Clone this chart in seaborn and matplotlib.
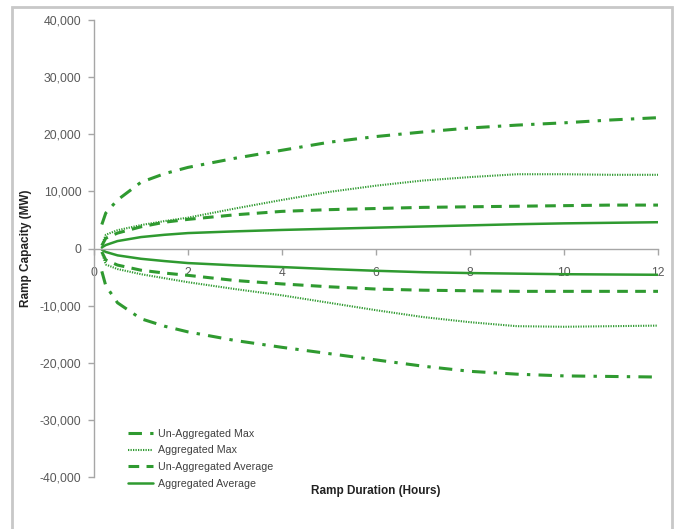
import matplotlib
matplotlib.use("Agg")
import matplotlib.pyplot as plt
import matplotlib.patches as mpatches
from matplotlib.ticker import FuncFormatter, MultipleLocator
import seaborn as sns
import pandas as pd

sns.set_theme(style="white")
plt.rcParams["font.family"] = ["Liberation Sans", "DejaVu Sans"]

# Ramp duration in hours
hours = [1/6, 0.25, 0.5, 1, 1.5, 2, 3, 4, 5, 6, 7, 8, 9, 10, 11, 12]

# Upward / downward ramp capacity (MW)
unagg_max_up = [4200, 6200, 8500, 11600, 13100, 14200, 15800, 17200, 18600, 19600,
                20400, 21100, 21600, 22000, 22500, 22900]
unagg_max_down = [-4000, -6500, -9500, -12300, -13600, -14600, -16100, -17300, -18400,
                  -19500, -20600, -21500, -22000, -22300, -22400, -22500]
agg_max_up = [600, 2400, 3200, 4100, 4800, 5400, 7000, 8500, 9900, 11000, 11900,
              12500, 13000, 13000, 12900, 12900]
agg_max_down = [-700, -2800, -3600, -4500, -5200, -5900, -7100, -8200, -9500, -10800,
                -12000, -12900, -13600, -13700, -13600, -13500]
unagg_avg_up = [500, 1800, 2700, 3800, 4600, 5100, 5900, 6500, 6800, 7000, 7200,
                7300, 7400, 7500, 7600, 7600]
unagg_avg_down = [-600, -2000, -2900, -3800, -4300, -4700, -5600, -6200, -6700, -7100,
                  -7300, -7400, -7500, -7500, -7500, -7500]
agg_avg_up = [200, 600, 1300, 2000, 2400, 2700, 3000, 3250, 3450, 3650, 3850, 4050,
              4250, 4400, 4500, 4600]
agg_avg_down = [-200, -600, -1200, -1800, -2200, -2550, -2950, -3250, -3600, -3900,
                -4150, -4300, -4400, -4500, -4550, -4600]

series_names = ["Un-Aggregated Max", "Aggregated Max",
                "Un-Aggregated Average", "Aggregated Average"]

green = "#2f9a30"
styles = {
    "Un-Aggregated Max": dict(linestyle=(0, (4.4, 2.7, 1.1, 2.7)), linewidth=2.2),
    "Aggregated Max": dict(linestyle=(0, (0.6, 0.6)), linewidth=1.5),
    "Un-Aggregated Average": dict(linestyle=(0, (3.5, 2.4)), linewidth=2.2),
    "Aggregated Average": dict(linestyle="-", linewidth=1.8),
}
pairs = {
    "Un-Aggregated Max": (unagg_max_up, unagg_max_down),
    "Aggregated Max": (agg_max_up, agg_max_down),
    "Un-Aggregated Average": (unagg_avg_up, unagg_avg_down),
    "Aggregated Average": (agg_avg_up, agg_avg_down),
}

fig = plt.figure(figsize=(6.75, 5.29), dpi=100)
ax = fig.add_axes([94/675, 1 - 477/529, (658 - 94)/675, (477 - 20)/529])

for name in series_names:
    up, down = pairs[name]
    df_up = pd.DataFrame({"hours": hours, "mw": up})
    df_dn = pd.DataFrame({"hours": hours, "mw": down})
    sns.lineplot(data=df_up, x="hours", y="mw", ax=ax, color=green,
                 label=name, **styles[name])
    sns.lineplot(data=df_dn, x="hours", y="mw", ax=ax, color=green,
                 label="_nolegend_", **styles[name])

ax.set_xlim(0, 12)
ax.set_ylim(-40000, 40000)
ax.xaxis.set_major_locator(MultipleLocator(2))
ax.yaxis.set_major_locator(MultipleLocator(10000))
ax.yaxis.set_major_formatter(FuncFormatter(lambda v, p: f"{int(v):,}"))

grey = "#a6a6a6"
for s in ["top", "right"]:
    ax.spines[s].set_visible(False)
ax.spines["bottom"].set_position(("data", 0))
ax.spines["bottom"].set_color(grey)
ax.spines["left"].set_color(grey)
ax.spines["bottom"].set_linewidth(1.0)
ax.spines["left"].set_linewidth(1.0)
ax.tick_params(axis="y", which="major", direction="out", length=4, width=1,
               color=grey, labelsize=8.8, labelcolor="#595959", pad=5, left=True)
ax.tick_params(axis="x", which="major", direction="out", length=4, width=1,
               color=grey, labelsize=8.8, labelcolor="#595959", pad=9, bottom=True)

ax.set_xlabel("Ramp Duration (Hours)", fontsize=8.5, fontweight="bold", color="#222222")
ax.set_ylabel("Ramp Capacity (MW)", fontsize=8.5, fontweight="bold", color="#222222")
ax.xaxis.set_label_coords(0.5, -0.018)
ax.yaxis.set_label_coords(-0.11, 0.5)

leg = ax.legend(loc="lower left", bbox_to_anchor=(0.052, -0.035), frameon=False,
                fontsize=7.7, handlelength=2.4, handletextpad=0.4, labelspacing=0.62,
                borderaxespad=0)
for t in leg.get_texts():
    t.set_color("#404040")

# light grey frame around the figure
fig.patches.append(mpatches.Rectangle((12/675, -0.02), (672 - 12)/675, 1 - 7/529 + 0.02,
                                      transform=fig.transFigure, fill=False,
                                      edgecolor="#c8c8c8", linewidth=2.0))

fig.savefig("out.png", dpi=100)
